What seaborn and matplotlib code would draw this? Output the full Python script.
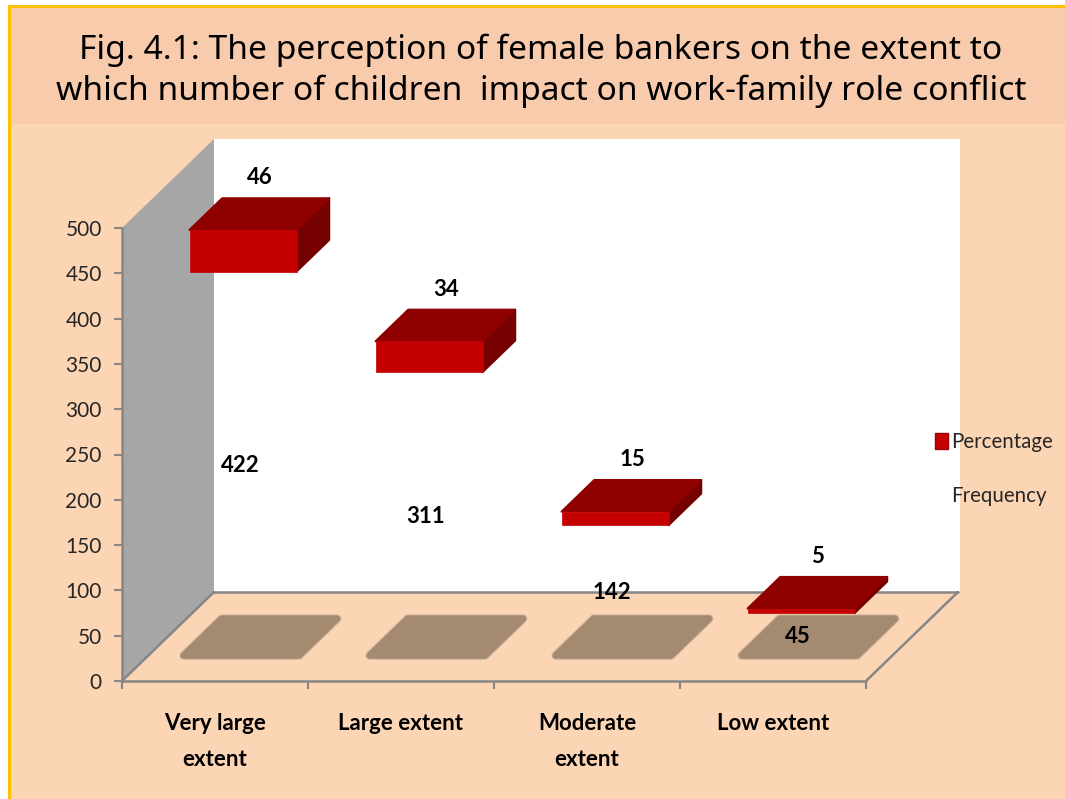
import matplotlib
matplotlib.use("Agg")
import matplotlib.pyplot as plt
import numpy as np
import pandas as pd
import seaborn as sns
from matplotlib.patches import Polygon, Rectangle, Patch
from matplotlib.transforms import Affine2D, IdentityTransform

categories = ["Very large\nextent", "Large extent", "Moderate\nextent", "Low extent"]
frequency = [422, 311, 142, 45]
percentage = [46, 34, 15, 5]
y_ticks = [0, 50, 100, 150, 200, 250, 300, 350, 400, 450, 500]
title = ("Fig. 4.1: The perception of female bankers on the extent to\n"
         "which number of children  impact on work-family role conflict")

W, H = 1065, 799
BG, BAND, GOLD = "#fcd5b5", "#f8cbad", "#ffc000"
GREY, WALL = "#868686", "#a6a6a6"
FONT = "Lato"

sns.set_theme(style="white")
plt.rcParams["font.family"] = [FONT, "DejaVu Sans"]

fig = plt.figure(figsize=(W / 100, H / 100), dpi=100, facecolor="white")
ax = fig.add_axes([122 / W, (H - 681) / H, (866 - 122) / W, (681 - 228) / H])
ax.patch.set_visible(False)

def frame(x0, y0, x1, y1, color):
    fig.add_artist(Rectangle((x0, H - y1), x1 - x0, y1 - y0, transform=IdentityTransform(),
                             facecolor=color, edgecolor="none", zorder=-5))

frame(8, 5, W, H, GOLD)
frame(11, 8, W, H, BG)
frame(11, 8, W, 124, BAND)

df = pd.DataFrame({"category": categories, "frequency": frequency, "percentage": percentage})
sns.barplot(data=df, x="category", y="frequency", color="white", alpha=0, width=0.575, ax=ax)
n_freq = len(ax.patches)
sns.barplot(data=df, x="category", y="percentage", bottom=df["frequency"].to_numpy(),
            color="#c40000", saturation=1, width=0.575, ax=ax)
ax.set_xlim(-0.5, len(categories) - 0.5)
ax.set_ylim(0, 500)
ax.set_xlabel("")
ax.set_ylabel("")

DEPTH = np.array([92.0, 89.0])
BAR_FRONT, BAR_BACK = 0.305, 0.66
SHADOW_FRONT, SHADOW_BACK = 0.247, 0.74

def pt(x, y, depth=0.0):
    return ax.transData.transform((x, y)) + depth * DEPTH

def face(points, color, z, lw=0.0, edge=None):
    ax.add_patch(Polygon(points, closed=True, transform=IdentityTransform(), clip_on=False,
                         facecolor=color, edgecolor=edge or color, linewidth=lw,
                         joinstyle="round", zorder=z))

x0, x1 = ax.get_xlim()
# back wall, side wall, floor
face([pt(x0, 0, 1), pt(x1, 0, 1) + [2, 0], pt(x1, 500, 1) + [2, 0], pt(x0, 500, 1)], "white", 0.1)
face([pt(x0, 0), pt(x0, 0, 1), pt(x0, 500, 1), pt(x0, 500)], WALL, 0.2)
for a, b in [((x0, 0, 0), (x0, 0, 1)), ((x0, 0, 1), (x1, 0, 1)), ((x1, 0, 1), (x1, 0, 0)),
             ((x0, 0, 0), (x1, 0, 0))]:
    p, q = pt(*a), pt(*b)
    ax.plot([p[0], q[0]], [p[1], q[1]], color=GREY, lw=1.8, transform=IdentityTransform(),
            clip_on=False, zorder=0.3)

# floor shadows: rounded, soft-edged parallelograms
for i in range(len(categories)):
    l, r = i - 0.33 + 0.02, i + 0.33 - 0.02
    fr, bk = SHADOW_FRONT + 0.04, SHADOW_BACK - 0.04
    s = [pt(l, 0, fr), pt(r, 0, fr), pt(r, 0, bk), pt(l, 0, bk)]
    for k, (lw, col) in enumerate([(6.5, "#e0c4a9"), (5.5, "#c2a78f"), (4.5, "#a58a72")]):
        face(s, col, 0.4 + k * 0.01, lw=lw)

# 3D stacked bars
for bar in ax.patches[n_freq:n_freq + len(categories)]:
    l, r = bar.get_x(), bar.get_x() + bar.get_width()
    b, t = bar.get_y(), bar.get_y() + bar.get_height()
    off = BAR_FRONT * DEPTH
    bar.set_transform(ax.transData + Affine2D().translate(off[0], off[1]))
    bar.set_clip_on(False)
    bar.set_zorder(3)
    bar.set_edgecolor("#c40000")
    bar.set_linewidth(0.5)
    face([pt(l, t, BAR_FRONT), pt(r, t, BAR_FRONT), pt(r, t, BAR_BACK), pt(l, t, BAR_BACK)], "#8f0000", 2.5, lw=1.5)
    face([pt(r, b, BAR_FRONT), pt(r, t, BAR_FRONT), pt(r, t, BAR_BACK), pt(r, b, BAR_BACK)], "#760000", 2.4, lw=1.5)

# value labels
for i, (f, p) in enumerate(zip(frequency, percentage)):
    c = pt(i, f / 2, BAR_FRONT - 0.035)
    ax.text(c[0], c[1], str(f), transform=IdentityTransform(), ha="center", va="center",
            fontsize=16, fontweight="bold", color="black", zorder=5)
    ax.annotate(str(p), xy=(i, f + p), xytext=(45, 79), textcoords="offset pixels",
                ha="center", va="center", fontsize=16, fontweight="bold", color="black",
                annotation_clip=False, zorder=5)

# axes, ticks, labels
sns.despine(ax=ax, top=True, right=True, bottom=True, left=False)
ax.spines["left"].set_color(GREY)
ax.spines["left"].set_linewidth(1.8)
ax.set_yticks(y_ticks)
ax.tick_params(axis="y", length=5.5, width=1.5, color=GREY, labelsize=15, labelcolor="#262626", pad=9, left=True)
ax.set_xticks(range(len(categories)))
ax.set_xticklabels(categories, fontsize=16, fontweight="bold", color="black", linespacing=1.9)
ax.tick_params(axis="x", which="major", length=0, pad=23)
ax.set_xticks(np.arange(x0, x1 + 0.5), minor=True)
ax.tick_params(axis="x", which="minor", length=6, width=1.5, color=GREY, bottom=True)

handles = [Patch(facecolor="#c40000", edgecolor="#a00000", label="Percentage"),
           Patch(facecolor="none", edgecolor="none", label="Frequency")]
leg = fig.legend(handles=handles, loc="upper left", bbox_to_anchor=(935 / W, (H - 432) / H),
                 bbox_transform=fig.transFigure, frameon=False, fontsize=14.8, labelspacing=1.65,
                 handlelength=0.65, handleheight=0.85, handletextpad=0.15, borderpad=0, borderaxespad=0,
                 labelcolor="#262626")

fig.text(541 / W, (H - 71) / H, title, ha="center", va="center", fontsize=24.2, color="black",
         family="Noto Sans", linespacing=1.3)

fig.savefig("out.png", dpi=100, facecolor=fig.get_facecolor())
